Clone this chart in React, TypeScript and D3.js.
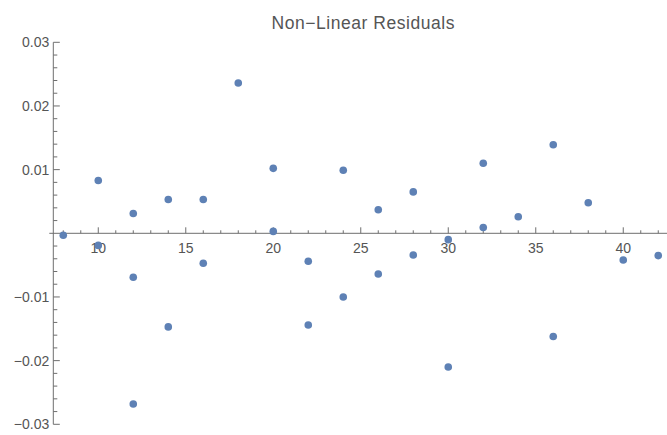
import React from "react";
import * as d3 from "d3";

// residuals, grouped by x
const xs = [8, 10, 10, 12, 12, 12, 14, 14, 16, 16, 18, 20, 20, 22, 22, 24, 24, 26, 26, 28, 28, 30, 30, 32, 32, 34, 36, 36, 38, 40, 42];
const residuals = [
  -0.0003, 0.0083, -0.0019, 0.0031, -0.0069, -0.0268, 0.0053, -0.0147, 0.0053, -0.0047, 0.0236,
  0.0102, 0.0003, -0.0044, -0.0144, 0.0099, -0.01, 0.0037, -0.0064, 0.0065, -0.0034, -0.001,
  -0.021, 0.011, 0.0009, 0.0026, 0.0139, -0.0162, 0.0048, -0.0042, -0.0035,
];
const xTicks = [10, 15, 20, 25, 30, 35, 40];
const yTicks = [-0.03, -0.02, -0.01, 0.01, 0.02, 0.03];
const title = "Non\u2212Linear Residuals";

const W = 667;
const H = 435;
const font = "'Liberation Sans', Arial, sans-serif";
const axisColor = "#6e6e6e";
const textColor = "#555";

export default function App() {
  const x = d3.scaleLinear().domain([7.43, 42.5]).range([53.3, 667]);
  const y = d3.scaleLinear().domain([-0.03, 0.03]).range([424.3, 42.3]);

  const xMinor = d3.range(8, 43, 1).filter((v) => v % 5 !== 0);
  const yMinor = d3.range(-30, 31, 2).map((v) => v / 1000).filter((v) => Math.round(v * 1000) % 10 !== 0);
  const y0 = y(0);
  const x0 = x.range()[0];

  return (
    <svg width={W} height={H} style={{ position: "absolute", left: 0, top: 0, background: "#fff" }}>
      <text x={363} y={29} textAnchor="middle" fontFamily={font} fontSize={17.5} fill={textColor} textLength={183}>
        {title}
      </text>

      {/* y axis */}
      <line x1={x0} x2={x0} y1={y(0.03)} y2={y(-0.03)} stroke={axisColor} strokeWidth={1} />
      {yTicks.map((t) => (
        <g key={t}>
          <line x1={x0} x2={x0 + 6.5} y1={y(t)} y2={y(t)} stroke={axisColor} />
          <text x={x0 - 4} y={y(t)} dy="0.35em" textAnchor="end" fontFamily={font} fontSize={14} fill={textColor}>
            {(t < 0 ? "\u22120" : "0") + d3.format(".2f")(Math.abs(t)).slice(1)}
          </text>
        </g>
      ))}
      {yMinor.map((t) => (
        <line key={t} x1={x0} x2={x0 + 4} y1={y(t)} y2={y(t)} stroke={axisColor} />
      ))}

      {/* x axis */}
      <line x1={x0 - 4} x2={W} y1={y0} y2={y0} stroke={axisColor} strokeWidth={1} />
      {xTicks.map((t) => (
        <g key={t}>
          <line x1={x(t)} x2={x(t)} y1={y0} y2={y0 - 6} stroke={axisColor} />
          <text x={x(t)} y={y0 + 19.5} textAnchor="middle" fontFamily={font} fontSize={14} fill={textColor}>
            {t}
          </text>
        </g>
      ))}
      {xMinor.map((t) => (
        <line key={t} x1={x(t)} x2={x(t)} y1={y0} y2={y0 - 3} stroke={axisColor} />
      ))}

      {xs.map((v, i) => (
        <circle key={i} cx={x(v)} cy={y(residuals[i])} r={3.8} fill="#5e81b5" />
      ))}
    </svg>
  );
}
